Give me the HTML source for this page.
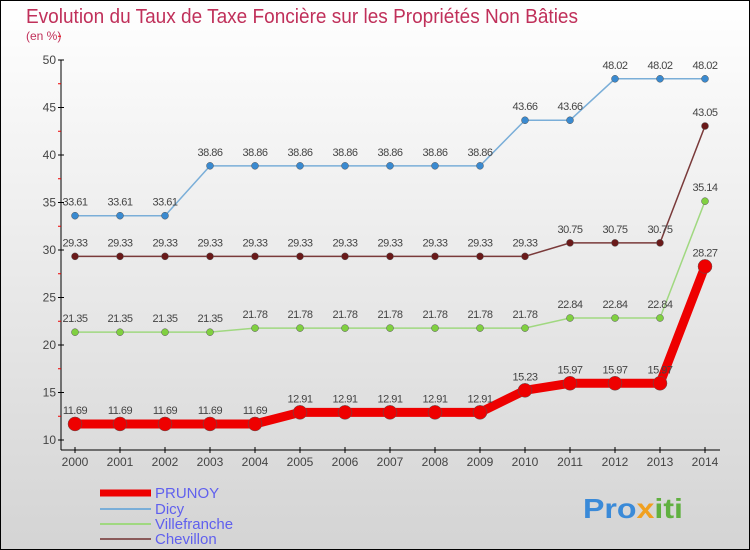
<!DOCTYPE html>
<html><head><meta charset="utf-8"><style>
body{margin:0}
svg{display:block;font-family:"Liberation Sans",sans-serif}
</style></head><body>
<svg width="750" height="550" xmlns="http://www.w3.org/2000/svg">
<defs><linearGradient id="bg" x1="0" y1="0" x2="0" y2="1"><stop offset="0" stop-color="#ffffff"/><stop offset="1" stop-color="#d4d4d4"/></linearGradient></defs>
<rect x="0.5" y="0.5" width="749" height="549" fill="url(#bg)" stroke="#000"/>
<text x="26" y="23" font-size="20" fill="#c0305a" textLength="552" lengthAdjust="spacingAndGlyphs">Evolution du Taux de Taxe Foncière sur les Propriétés Non Bâties</text>
<text x="26" y="40" font-size="12" fill="#c0305a">(en %)</text>
<g id="axes"></g>
<g id="series"></g>
<g id="legend"></g>
<text x="583" y="518" font-size="28" font-weight="bold" fill="#3a8ad8" textLength="100" lengthAdjust="spacingAndGlyphs">Pro<tspan fill="#f0a020">x</tspan><tspan fill="#60b040">iti</tspan></text>
</svg>
<script>
const years=[2000,2001,2002,2003,2004,2005,2006,2007,2008,2009,2010,2011,2012,2013,2014];
const yTicks=[10,15,20,25,30,35,40,45,50];
const prunoy=[11.69,11.69,11.69,11.69,11.69,12.91,12.91,12.91,12.91,12.91,15.23,15.97,15.97,15.97,28.27];
const dicy=[33.61,33.61,33.61,38.86,38.86,38.86,38.86,38.86,38.86,38.86,43.66,43.66,48.02,48.02,48.02];
const villefranche=[21.35,21.35,21.35,21.35,21.78,21.78,21.78,21.78,21.78,21.78,21.78,22.84,22.84,22.84,35.14];
const chevillon=[29.33,29.33,29.33,29.33,29.33,29.33,29.33,29.33,29.33,29.33,29.33,30.75,30.75,30.75,43.05];
const NS="http://www.w3.org/2000/svg";
const xs=i=>75+i*45;
const ys=v=>440-(v-10)*9.5;
function mk(t,a,p){const e=document.createElementNS(NS,t);for(const k in a)e.setAttribute(k,a[k]);p.appendChild(e);return e;}
const ax=document.getElementById('axes');
let yl=mk('line',{x1:61,y1:60,x2:61,y2:450,stroke:'#000'},ax);


let xl=mk('line',{x1:61,y1:450,x2:720,y2:450,stroke:'#000'},ax);


yTicks.forEach(v=>{
 mk('line',{x1:58,y1:ys(v),x2:64,y2:ys(v),stroke:'#000'},ax);
 mk('line',{x1:58,y1:ys(v+2.5),x2:61,y2:ys(v+2.5),stroke:'#e00'},ax);
 const t=mk('text',{x:56,y:ys(v)+4,'font-size':12,fill:'#444','text-anchor':'end'},ax);t.textContent=v;
 
 
});
years.forEach((y,i)=>{
 mk('line',{x1:xs(i),y1:447,x2:xs(i),y2:453,stroke:'#000'},ax);
 const t=mk('text',{x:xs(i),y:466,'font-size':12,fill:'#444','text-anchor':'middle'},ax);t.textContent=y;
 
 
});
const sg=document.getElementById('series');
function series(d,col,w,r,dot,name){
 const g=mk('g',{},sg);
 
 
 mk('polyline',{points:d.map((v,i)=>xs(i)+','+ys(v)).join(' '),fill:'none',stroke:col,'stroke-width':w},g);
 d.forEach((v,i)=>{
  const c=mk('circle',{cx:xs(i),cy:ys(v),r:r,fill:dot,stroke:'#555','stroke-width':0.5},g);
  
  
  const t=mk('text',{x:xs(i),y:ys(v)-10,'font-size':11,fill:'#444','text-anchor':'middle','letter-spacing':'-0.5'},g);
  t.textContent=v.toFixed(2).replace(/0$/,'').replace(/\.$/,'');
  
  
 });
}
series(dicy,'#7aaed8',1.5,3.5,'#3a8ad0','dicy');
series(chevillon,'#7a3a3a',1.5,3.5,'#6a1a1a','chevillon');
series(villefranche,'#a0d880',1.5,3.5,'#80d040','villefranche');
series(prunoy,'#ee0000',9,7,'#ee0000','prunoy');
const lg=document.getElementById('legend');
[['PRUNOY','#ee0000',7,493],['Dicy','#7aaed8',2,509],['Villefranche','#a0d880',2,524],['Chevillon','#8a5a5a',2,539]].forEach(([n,c,w,y])=>{
 const g=mk('g',{},lg);
 
 
 mk('line',{x1:100,y1:y,x2:151,y2:y,stroke:c,'stroke-width':w},g);
 const t=mk('text',{x:155,y:y+5,'font-size':15,fill:'#6060ee'},g);t.textContent=n;
});
</script>
</body></html>
